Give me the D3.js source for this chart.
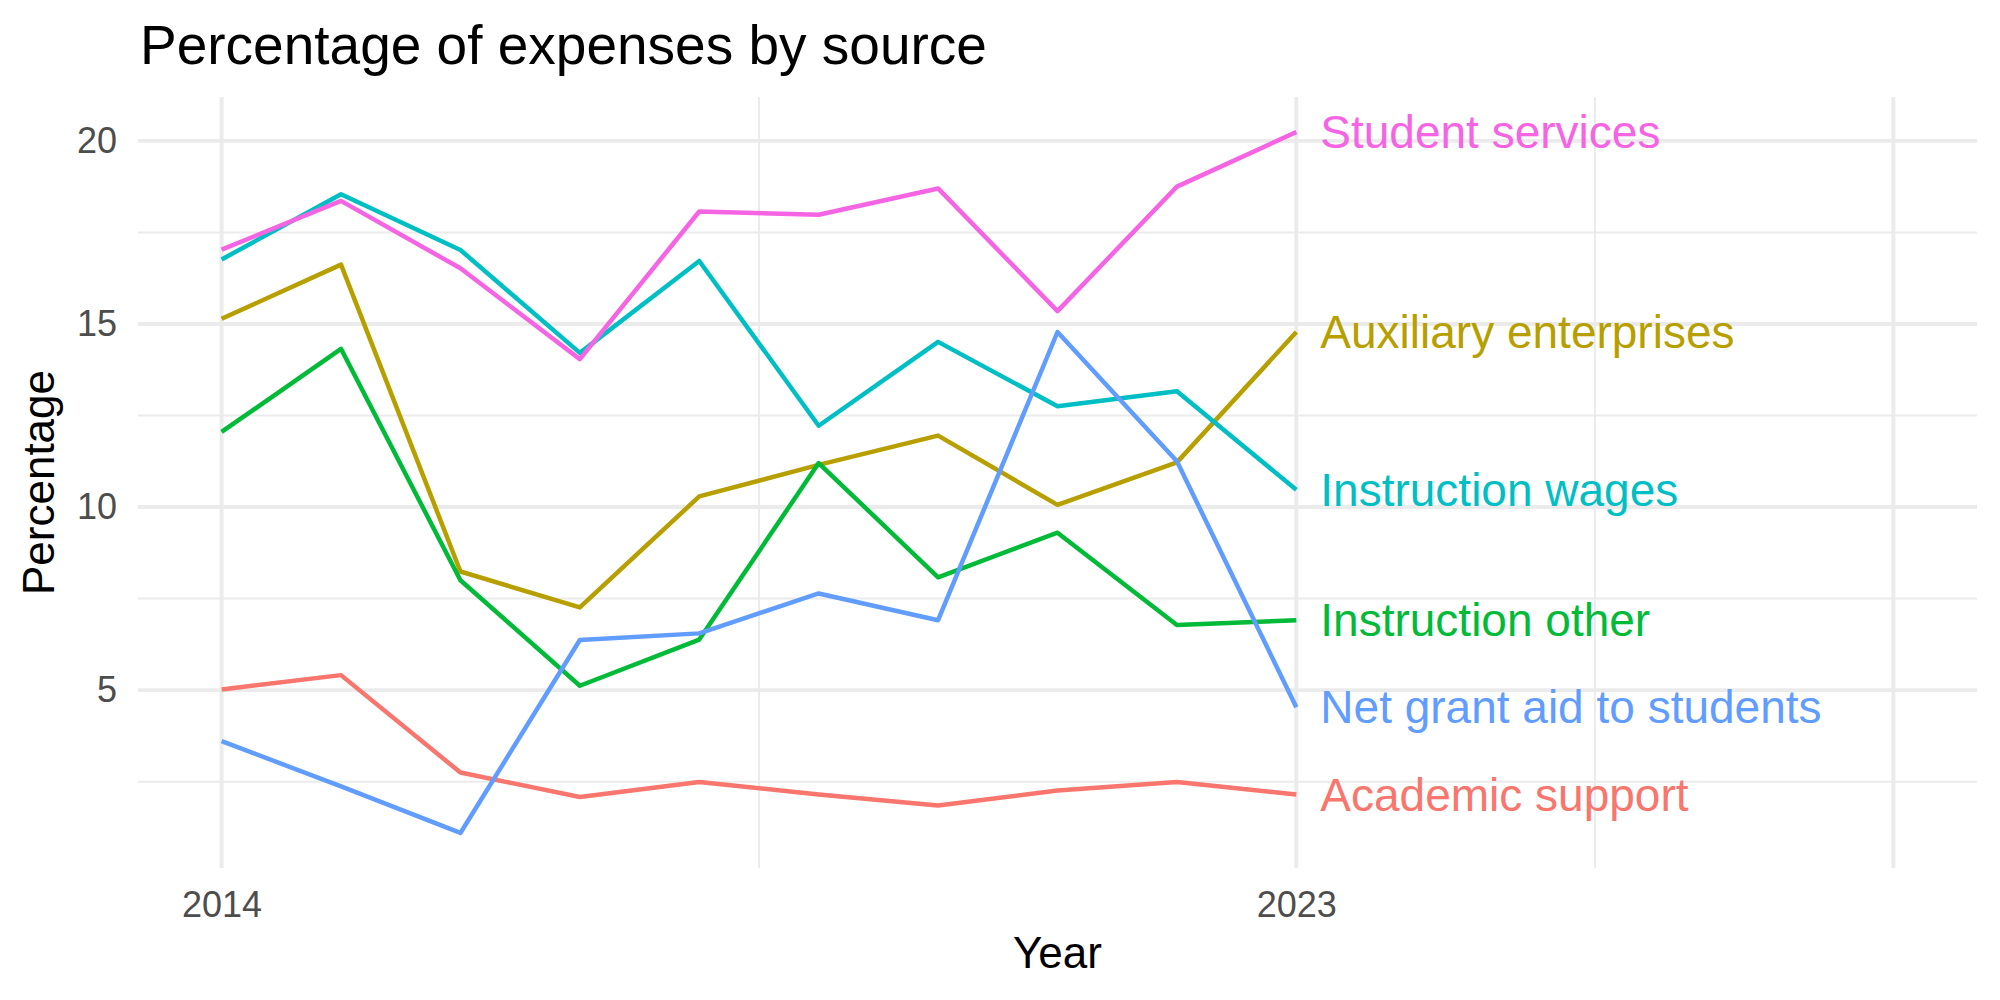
<!DOCTYPE html>
<html>
<head>
<meta charset="utf-8">
<script src="https://cdn.jsdelivr.net/npm/d3@7"></script>
<style>
  body { margin: 0; background: #fff; }
  text { font-family: "Liberation Sans", Arial, sans-serif; }
</style>
</head>
<body>
<div id="chart"></div>
<script>
// Years and each expense source (percent of expenses)
var years = [2014, 2015, 2016, 2017, 2018, 2019, 2020, 2021, 2022, 2023];

var academicSupport = [5.02, 5.41, 2.75, 2.08, 2.49, 2.15, 1.85, 2.26, 2.49, 2.15];
var auxiliaryEnterprises = [15.14, 16.62, 8.24, 7.26, 10.29, 11.15, 11.95, 10.06, 11.22, 14.78];
var instructionOther = [12.05, 14.32, 8.0, 5.12, 6.38, 11.2, 8.08, 9.3, 6.78, 6.91];
var instructionWages = [16.76, 18.54, 17.02, 14.21, 16.72, 12.22, 14.51, 12.75, 13.16, 10.47];
var netGrantAid = [3.61, 2.37, 1.1, 6.37, 6.55, 7.64, 6.91, 14.78, 11.25, 4.53];
var studentServices = [17.03, 18.36, 16.52, 14.04, 18.07, 17.98, 18.7, 15.35, 18.75, 20.24];

var seriesNames = ["Academic support", "Auxiliary enterprises", "Instruction other",
    "Instruction wages", "Net grant aid to students", "Student services"];
var seriesColors = ["#F8766D", "#B79F00", "#00BA38", "#00BFC4", "#619CFF", "#F564E3"];

var yMajor = [5, 10, 15, 20];
var yMinor = [2.5, 7.5, 12.5, 17.5];
var xMajor = [2014, 2023, 2028];
var xMinor = [2018.5, 2025.5];
var xLabels = [2014, 2023];

var series = [academicSupport, auxiliaryEnterprises, instructionOther,
    instructionWages, netGrantAid, studentServices].map(function(vals, i) {
    return {
        name: seriesNames[i],
        color: seriesColors[i],
        values: vals.map(function(v, j) { return { year: years[j], value: v }; })
    };
});

// SVG and panel dimensions
var svgWidth = 2000;
var svgHeight = 1000;
var panel = { left: 138, right: 1977, top: 97, bottom: 868 };

var svg = d3.select("#chart")
    .append("svg")
    .attr("width", svgWidth)
    .attr("height", svgHeight);

// Scales, ggplot-style 5% expansion
var xLim = [2014, 2028];
var xPad = (xLim[1] - xLim[0]) * 0.05;
var xScale = d3.scaleLinear()
    .domain([xLim[0] - xPad, xLim[1] + xPad])
    .range([panel.left, panel.right]);

var allVals = [].concat(academicSupport, auxiliaryEnterprises, instructionOther,
    instructionWages, netGrantAid, studentServices);
var yExt = d3.extent(allVals);
var yPad = (yExt[1] - yExt[0]) * 0.05;
var yScale = d3.scaleLinear()
    .domain([yExt[0] - yPad, yExt[1] + yPad])
    .range([panel.bottom, panel.top]);

// Grid lines
var grid = svg.append("g");
grid.selectAll(".ymin").data(yMinor).enter().append("line")
    .attr("x1", panel.left).attr("x2", panel.right)
    .attr("y1", d => yScale(d)).attr("y2", d => yScale(d))
    .attr("stroke", "#EBEBEB").attr("stroke-width", 2);
grid.selectAll(".xmin").data(xMinor).enter().append("line")
    .attr("y1", panel.top).attr("y2", panel.bottom)
    .attr("x1", d => xScale(d)).attr("x2", d => xScale(d))
    .attr("stroke", "#EBEBEB").attr("stroke-width", 2);
grid.selectAll(".ymaj").data(yMajor).enter().append("line")
    .attr("x1", panel.left).attr("x2", panel.right)
    .attr("y1", d => yScale(d)).attr("y2", d => yScale(d))
    .attr("stroke", "#EBEBEB").attr("stroke-width", 3.9);
grid.selectAll(".xmaj").data(xMajor).enter().append("line")
    .attr("y1", panel.top).attr("y2", panel.bottom)
    .attr("x1", d => xScale(d)).attr("x2", d => xScale(d))
    .attr("stroke", "#EBEBEB").attr("stroke-width", 3.9);

// Axes (no domain line, no ticks)
var bottomAxis = d3.axisBottom(xScale)
    .tickValues(xLabels)
    .tickFormat(d3.format("d"))
    .tickSize(0)
    .tickPadding(23);
var xAxis = svg.append("g")
    .attr("transform", `translate(0, ${panel.bottom})`)
    .call(bottomAxis);

var leftAxis = d3.axisLeft(yScale)
    .tickValues(yMajor)
    .tickSize(0)
    .tickPadding(21);
var yAxis = svg.append("g")
    .attr("transform", `translate(${panel.left}, 0)`)
    .call(leftAxis);

[xAxis, yAxis].forEach(function(ax) {
    ax.select(".domain").remove();
    ax.selectAll("text")
        .attr("fill", "#4D4D4D")
        .attr("font-size", 36)
        .attr("font-family", "Liberation Sans, Arial, sans-serif");
});

// Lines
var line = d3.line()
    .x(d => xScale(d.year))
    .y(d => yScale(d.value));

svg.append("g").selectAll("path")
    .data(series)
    .enter()
    .append("path")
    .attr("d", d => line(d.values))
    .attr("fill", "none")
    .attr("stroke", d => d.color)
    .attr("stroke-width", 4.5)
    .attr("stroke-linejoin", "round");

// Direct labels at the last value
svg.append("g").selectAll("text")
    .data(series)
    .enter()
    .append("text")
    .attr("x", d => xScale(d.values[d.values.length - 1].year) + 24)
    .attr("y", d => yScale(d.values[d.values.length - 1].value))
    .attr("dy", "0.35em")
    .attr("fill", d => d.color)
    .attr("font-size", 46)
    .text(d => d.name);

// Titles
svg.append("text")
    .attr("x", 140)
    .attr("y", 64)
    .attr("font-size", 55)
    .attr("fill", "#000")
    .text("Percentage of expenses by source");

svg.append("text")
    .attr("x", (panel.left + panel.right) / 2)
    .attr("y", 968)
    .attr("text-anchor", "middle")
    .attr("font-size", 44)
    .attr("fill", "#000")
    .text("Year");

svg.append("text")
    .attr("transform", `translate(54, ${(panel.top + panel.bottom) / 2}) rotate(-90)`)
    .attr("text-anchor", "middle")
    .attr("font-size", 44)
    .attr("fill", "#000")
    .text("Percentage");
</script>
</body>
</html>
